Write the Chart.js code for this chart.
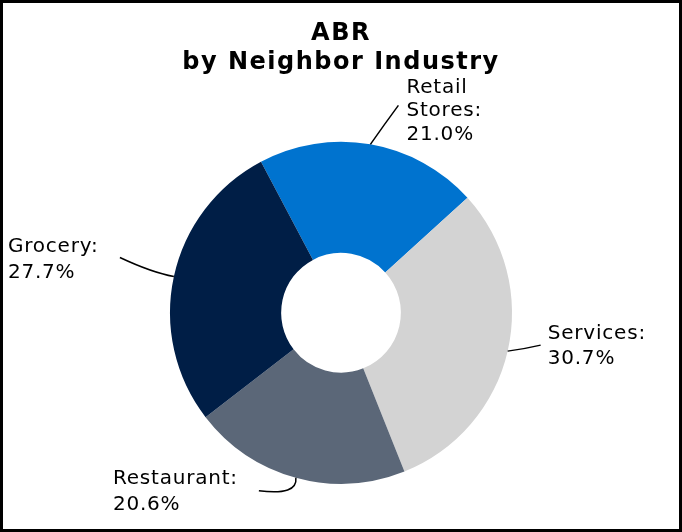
<!DOCTYPE html>
<html>
<head>
<meta charset="utf-8">
<script src="https://cdn.jsdelivr.net/npm/chart.js@4.4.0/dist/chart.umd.min.js"></script>
<style>
    html, body { margin: 0; padding: 0; background: #fff; }
    #frame { width: 682px; height: 532px; box-sizing: border-box; border: 3px solid #000; }
    #wrap { width: 676px; height: 526px; }
</style>
</head>
<body>
<div id="frame"><div id="wrap"><canvas id="abr-chart"></canvas></div></div>
<script>
// Data
const categories = ['Retail Stores', 'Services', 'Restaurant', 'Grocery'];
const labelLines = [['Retail', 'Stores:', '21.0%'], ['Services:', '30.7%'], ['Restaurant:', '20.6%'], ['Grocery:', '27.7%']];
const abrShare = [21.0, 30.7, 20.6, 27.7];
const sliceColors = ['#0073CF', '#D3D3D3', '#5B6778', '#001E46'];

// leader line + label layout, relative to the slice's outer mid point
const labelLayout = [
    { end: [28, -39], ctrl: [14, -20], text: [36, -57], lh: 23.5 },
    { end: [33, -6], ctrl: [16, -2], text: [40, -17], lh: 25 },
    { end: [-37, 13], ctrl: [2, 18], text: [-183, 1], lh: 26 },
    { end: [-54, -19], ctrl: [-22, -4], text: [-166, -30], lh: 26 }
];

const FONT = "'DejaVu Sans', Verdana, sans-serif";

// wider tracking so DejaVu looks closer to Verdana
const tracking = {
    id: 'tracking',
    beforeDraw(chart) { chart.ctx.letterSpacing = '1.5px'; }
};

const leaderLabels = {
    id: 'leaderLabels',
    afterDatasetsDraw(chart) {
        const ctx = chart.ctx;
        const meta = chart.getDatasetMeta(0);
        ctx.save();
        ctx.letterSpacing = '0.8px';
        ctx.font = `20px ${FONT}`;
        ctx.fillStyle = '#000';
        ctx.strokeStyle = '#000';
        ctx.lineWidth = 1.5;
        ctx.textBaseline = 'middle';
        ctx.textAlign = 'left';
        meta.data.forEach((arc, i) => {
            const mid = (arc.startAngle + arc.endAngle) / 2;
            const x0 = arc.x + Math.cos(mid) * arc.outerRadius;
            const y0 = arc.y + Math.sin(mid) * arc.outerRadius;
            const lay = labelLayout[i];
            ctx.beginPath();
            ctx.moveTo(x0, y0);
            ctx.quadraticCurveTo(x0 + lay.ctrl[0], y0 + lay.ctrl[1], x0 + lay.end[0], y0 + lay.end[1]);
            ctx.stroke();
            labelLines[i].forEach((line, j) => {
                ctx.fillText(line, x0 + lay.text[0], y0 + lay.text[1] + j * lay.lh);
            });
        });
        ctx.restore();
    }
};

new Chart(document.getElementById('abr-chart').getContext('2d'), {
    type: 'doughnut',
    data: {
        labels: categories,
        datasets: [{
            data: abrShare,
            backgroundColor: sliceColors,
            borderWidth: 0
        }]
    },
    options: {
        responsive: true,
        maintainAspectRatio: false,
        animation: false,
        rotation: -27.9,
        cutout: '35%',
        layout: { padding: { left: 167, right: 167, top: 0, bottom: 45 } },
        plugins: {
            legend: { display: false },
            tooltip: { enabled: false },
            title: {
                display: true,
                text: ['ABR', 'by Neighbor Industry'],
                color: '#000',
                font: { family: FONT, size: 24, weight: 'bold', lineHeight: 1.22 },
                padding: { top: 16, bottom: 64 }
            }
        }
    },
    plugins: [tracking, leaderLabels]
});
</script>
</body>
</html>
